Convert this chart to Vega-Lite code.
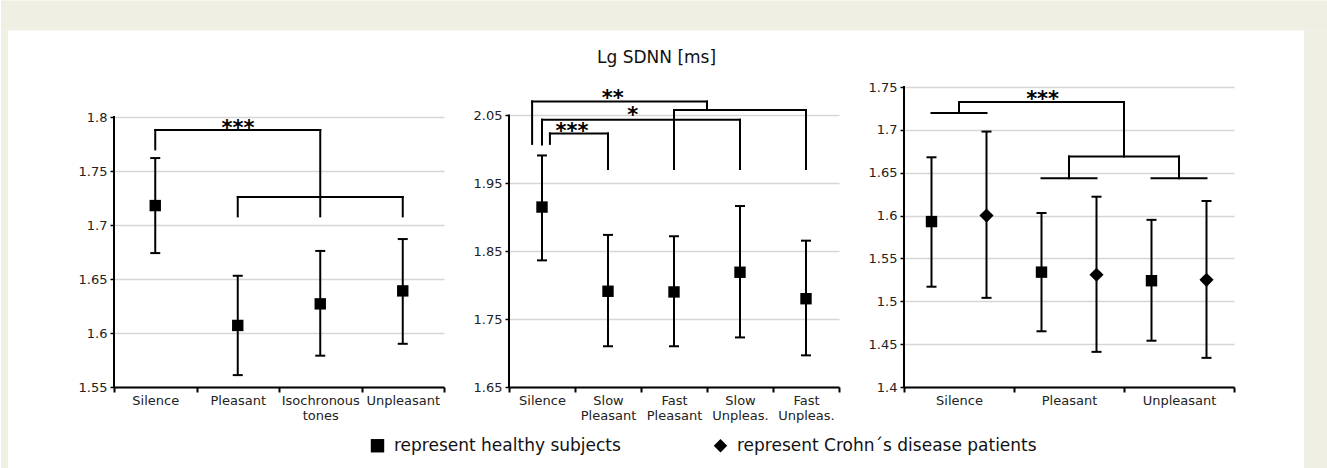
{
  "$schema": "https://vega.github.io/schema/vega-lite/v6.json",
  "background": "white",
  "padding": 0,
  "autosize": {"type": "pad"},
  "bounds": "flush",
  "spacing": 65,
  "config": {
    "font": "DejaVu Sans",
    "view": {"stroke": null},
    "axis": {"labelFont": "DejaVu Sans"},
    "legend": {"labelFont": "DejaVu Sans"}
  },
  "datasets": {
    "pts": [
      {"panel": "L", "cond": "Silence", "grp": "healthy", "mean": 1.718, "lo": 1.674, "hi": 1.762},
      {"panel": "L", "cond": "Pleasant", "grp": "healthy", "mean": 1.607, "lo": 1.561, "hi": 1.653},
      {"panel": "L", "cond": "Isochronous tones", "grp": "healthy", "mean": 1.627, "lo": 1.579, "hi": 1.676},
      {"panel": "L", "cond": "Unpleasant", "grp": "healthy", "mean": 1.639, "lo": 1.59, "hi": 1.687},
      {"panel": "M", "cond": "Silence", "grp": "healthy", "mean": 1.915, "lo": 1.8365, "hi": 1.991},
      {"panel": "M", "cond": "Slow Pleasant", "grp": "healthy", "mean": 1.791, "lo": 1.71, "hi": 1.874},
      {"panel": "M", "cond": "Fast Pleasant", "grp": "healthy", "mean": 1.79, "lo": 1.71, "hi": 1.872},
      {"panel": "M", "cond": "Slow Unpleas.", "grp": "healthy", "mean": 1.819, "lo": 1.723, "hi": 1.9165},
      {"panel": "M", "cond": "Fast Unpleas.", "grp": "healthy", "mean": 1.78, "lo": 1.6966, "hi": 1.8655},
      {"panel": "R", "cond": "Silence", "grp": "healthy", "mean": 1.593, "lo": 1.517, "hi": 1.668},
      {"panel": "R", "cond": "Silence", "grp": "crohn", "mean": 1.6, "lo": 1.504, "hi": 1.698},
      {"panel": "R", "cond": "Pleasant", "grp": "healthy", "mean": 1.534, "lo": 1.465, "hi": 1.603},
      {"panel": "R", "cond": "Pleasant", "grp": "crohn", "mean": 1.531, "lo": 1.441, "hi": 1.622},
      {"panel": "R", "cond": "Unpleasant", "grp": "healthy", "mean": 1.524, "lo": 1.454, "hi": 1.595},
      {"panel": "R", "cond": "Unpleasant", "grp": "crohn", "mean": 1.525, "lo": 1.434, "hi": 1.617}
    ],
    "br": [
      {"panel": "L", "x1": 0, "x2": 0, "y1": 1.55, "y2": 1.8},
      {"panel": "L", "x1": 0.5, "x2": 0.5, "y1": 1.77, "y2": 1.788},
      {"panel": "L", "x1": 0.5, "x2": 2.5, "y1": 1.788, "y2": 1.788},
      {"panel": "L", "x1": 2.5, "x2": 2.5, "y1": 1.788, "y2": 1.708},
      {"panel": "L", "x1": 1.5, "x2": 3.5, "y1": 1.726, "y2": 1.726},
      {"panel": "L", "x1": 1.5, "x2": 1.5, "y1": 1.726, "y2": 1.708},
      {"panel": "L", "x1": 3.5, "x2": 3.5, "y1": 1.726, "y2": 1.708},
      {"panel": "M", "x1": 0, "x2": 0, "y1": 1.65, "y2": 2.05},
      {"panel": "M", "x1": 0.35, "x2": 0.35, "y1": 2.008, "y2": 2.0706},
      {"panel": "M", "x1": 0.35, "x2": 3.0, "y1": 2.0706, "y2": 2.0706},
      {"panel": "M", "x1": 3.0, "x2": 3.0, "y1": 2.0706, "y2": 2.058},
      {"panel": "M", "x1": 2.5, "x2": 4.5, "y1": 2.058, "y2": 2.058},
      {"panel": "M", "x1": 2.5, "x2": 2.5, "y1": 2.058, "y2": 1.971},
      {"panel": "M", "x1": 4.5, "x2": 4.5, "y1": 2.058, "y2": 1.971},
      {"panel": "M", "x1": 0.5, "x2": 0.5, "y1": 2.007, "y2": 2.0437},
      {"panel": "M", "x1": 0.5, "x2": 3.5, "y1": 2.0437, "y2": 2.0437},
      {"panel": "M", "x1": 3.5, "x2": 3.5, "y1": 2.0437, "y2": 1.971},
      {"panel": "M", "x1": 0.62, "x2": 0.62, "y1": 2.008, "y2": 2.0235},
      {"panel": "M", "x1": 0.62, "x2": 1.5, "y1": 2.0235, "y2": 2.0235},
      {"panel": "M", "x1": 1.5, "x2": 1.5, "y1": 2.0235, "y2": 1.971},
      {"panel": "R", "x1": 0, "x2": 0, "y1": 1.4, "y2": 1.75},
      {"panel": "R", "x1": 0.25, "x2": 0.75, "y1": 1.7196, "y2": 1.7196},
      {"panel": "R", "x1": 0.5, "x2": 0.5, "y1": 1.7196, "y2": 1.7325},
      {"panel": "R", "x1": 0.5, "x2": 2.0, "y1": 1.7325, "y2": 1.7325},
      {"panel": "R", "x1": 2.0, "x2": 2.0, "y1": 1.7325, "y2": 1.669},
      {"panel": "R", "x1": 1.5, "x2": 2.5, "y1": 1.669, "y2": 1.669},
      {"panel": "R", "x1": 1.5, "x2": 1.5, "y1": 1.669, "y2": 1.6436},
      {"panel": "R", "x1": 2.5, "x2": 2.5, "y1": 1.669, "y2": 1.6436},
      {"panel": "R", "x1": 1.25, "x2": 1.75, "y1": 1.6436, "y2": 1.6436},
      {"panel": "R", "x1": 2.25, "x2": 2.75, "y1": 1.6436, "y2": 1.6436}
    ],
    "stars": [
      {"panel": "L", "label": "***", "x": 1.503, "y": 1.7937},
      {"panel": "M", "label": "**", "x": 1.571, "y": 2.0815},
      {"panel": "M", "label": "*", "x": 1.874, "y": 2.0559},
      {"panel": "M", "label": "***", "x": 0.955, "y": 2.0324},
      {"panel": "R", "label": "***", "x": 1.26, "y": 1.7404}
    ]
  },
  "hconcat": [
    {
      "width": 330,
      "height": 300,
      "resolve": {"scale": {"x": "independent"}},
      "layer": [
        {
          "layer": [
            {
              "data": {"values": [{}]},
              "mark": {"type": "rect", "color": "#efefe4"},
              "encoding": {
                "x": {"datum": -1.3697, "type": "quantitative", "scale": {"domain": [0, 4]}, "axis": null},
                "x2": {"datum": 14.7152},
                "y": {"datum": 1.9079, "type": "quantitative", "scale": {"domain": [1.55, 1.8278], "nice": false, "zero": false}, "title": null},
                "y2": {"datum": 1.8801}
              }
            },
            {
              "data": {"values": [{}]},
              "mark": {"type": "rect", "color": "#efefe4"},
              "encoding": {
                "x": {"datum": -1.3697, "type": "quantitative", "scale": {"domain": [0, 4]}, "axis": null},
                "x2": {"datum": -1.2848},
                "y": {"datum": 1.8801, "type": "quantitative", "scale": {"domain": [1.55, 1.8278], "nice": false, "zero": false}, "title": null},
                "y2": {"datum": 1.475}
              }
            },
            {
              "data": {"values": [{}]},
              "mark": {"type": "rect", "color": "#efefe4"},
              "encoding": {
                "x": {"datum": 14.4242, "type": "quantitative", "scale": {"domain": [0, 4]}, "axis": null},
                "x2": {"datum": 14.7152},
                "y": {"datum": 1.8801, "type": "quantitative", "scale": {"domain": [1.55, 1.8278], "nice": false, "zero": false}, "title": null},
                "y2": {"datum": 1.475}
              }
            },
            {
              "data": {"name": "br"},
              "transform": [{"filter": "datum.panel == 'L'"}],
              "mark": {"type": "rule", "color": "black", "strokeWidth": 2, "strokeCap": "square"},
              "encoding": {
                "x": {"field": "x1", "type": "quantitative", "scale": {"domain": [0, 4]}, "axis": null},
                "x2": {"field": "x2"},
                "y": {"field": "y1", "type": "quantitative", "scale": {"domain": [1.55, 1.8278], "nice": false, "zero": false}, "title": null},
                "y2": {"field": "y2"}
              }
            },
            {
              "data": {"name": "stars"},
              "transform": [{"filter": "datum.panel == 'L'"}],
              "mark": {"type": "text", "font": "DejaVu Sans", "fontWeight": "bold", "fontSize": 21, "baseline": "middle", "dy": 5, "color": "black"},
              "encoding": {
                "x": {"field": "x", "type": "quantitative", "scale": {"domain": [0, 4]}, "axis": null},
                "y": {"field": "y", "type": "quantitative", "scale": {"domain": [1.55, 1.8278], "nice": false, "zero": false}, "title": null},
                "text": {"field": "label"}
              }
            }
          ]
        },
        {
          "data": {"name": "pts"},
          "transform": [{"filter": "datum.panel == 'L'"}],
          "layer": [
            {
              "mark": {"type": "rule", "color": "black", "strokeWidth": 2},
              "encoding": {
                "x": {"field": "cond", "type": "nominal", "scale": {"domain": ["Silence", "Pleasant", "Isochronous tones", "Unpleasant"], "paddingInner": 0, "paddingOuter": 0},
                  "axis": {"title": null, "labelAngle": 0, "labelExpr": "split(datum.label, ' ')", "tickBand": "extent", "domainColor": "black", "domainWidth": 2, "tickColor": "black", "tickWidth": 2, "tickSize": 5, "labelFontSize": 13, "labelColor": "#222", "labelPadding": 2, "labelLineHeight": 15, "grid": false}},
                "y": {"field": "lo", "type": "quantitative", "scale": {"domain": [1.55, 1.8278], "nice": false, "zero": false}, "title": null},
                "y2": {"field": "hi"}
              }
            },
            {
              "mark": {"type": "tick", "color": "black", "thickness": 2, "size": 10, "opacity": 1},
              "encoding": {
                "x": {"field": "cond", "type": "nominal"},
                "y": {"field": "lo", "type": "quantitative", "title": null}
              }
            },
            {
              "mark": {"type": "tick", "color": "black", "thickness": 2, "size": 10, "opacity": 1},
              "encoding": {
                "x": {"field": "cond", "type": "nominal"},
                "y": {"field": "hi", "type": "quantitative", "title": null}
              }
            },
            {
              "mark": {"type": "point", "filled": true, "color": "black", "opacity": 1, "size": 130},
              "encoding": {
                "x": {"field": "cond", "type": "nominal"},
                "y": {"field": "mean", "type": "quantitative", "scale": {"domain": [1.55, 1.8278], "nice": false, "zero": false},
                  "axis": {"title": null, "values": [1.55, 1.6, 1.65, 1.7, 1.75, 1.8], "format": "~g", "domain": false, "tickColor": "black", "tickWidth": 1.5, "tickSize": 4, "labelFontSize": 13, "labelColor": "#222", "labelPadding": 3, "grid": true, "gridColor": "#d6d6d6", "gridWidth": 1.5}},
                "shape": {"field": "grp", "type": "nominal", "scale": {"domain": ["healthy", "crohn"], "range": ["square", "diamond"]},
                  "legend": {"orient": "none", "legendX": 255, "legendY": 350, "direction": "horizontal", "title": null, "labelExpr": "datum.label == 'healthy' ? 'represent healthy subjects' : 'represent Crohn´s disease patients'", "labelFontSize": 17, "labelColor": "#111", "symbolSize": 180, "symbolFillColor": "black", "symbolStrokeColor": "black", "symbolStrokeWidth": 0, "labelOffset": 8, "columnPadding": 91, "padding": 0, "labelLimit": 400}}
              }
            }
          ]
        }
      ]
    },
    {
      "width": 330,
      "height": 300,
      "title": {"text": "Lg SDNN [ms]", "fontSize": 17, "font": "DejaVu Sans", "fontWeight": "normal", "color": "#111", "anchor": "middle", "frame": "bounds", "offset": 20},
      "resolve": {"scale": {"x": "independent"}},
      "layer": [
        {
          "layer": [
            {
              "data": {"name": "br"},
              "transform": [{"filter": "datum.panel == 'M'"}],
              "mark": {"type": "rule", "color": "black", "strokeWidth": 2, "strokeCap": "square"},
              "encoding": {
                "x": {"field": "x1", "type": "quantitative", "scale": {"domain": [0, 5]}, "axis": null},
                "x2": {"field": "x2"},
                "y": {"field": "y1", "type": "quantitative", "scale": {"domain": [1.65, 2.0918], "nice": false, "zero": false}, "title": null},
                "y2": {"field": "y2"}
              }
            },
            {
              "data": {"name": "stars"},
              "transform": [{"filter": "datum.panel == 'M'"}],
              "mark": {"type": "text", "font": "DejaVu Sans", "fontWeight": "bold", "fontSize": 21, "baseline": "middle", "dy": 5, "color": "black"},
              "encoding": {
                "x": {"field": "x", "type": "quantitative", "scale": {"domain": [0, 5]}, "axis": null},
                "y": {"field": "y", "type": "quantitative", "scale": {"domain": [1.65, 2.0918], "nice": false, "zero": false}, "title": null},
                "text": {"field": "label"}
              }
            }
          ]
        },
        {
          "data": {"name": "pts"},
          "transform": [{"filter": "datum.panel == 'M'"}],
          "layer": [
            {
              "mark": {"type": "rule", "color": "black", "strokeWidth": 2},
              "encoding": {
                "x": {"field": "cond", "type": "nominal", "scale": {"domain": ["Silence", "Slow Pleasant", "Fast Pleasant", "Slow Unpleas.", "Fast Unpleas."], "paddingInner": 0, "paddingOuter": 0},
                  "axis": {"title": null, "labelAngle": 0, "labelExpr": "split(datum.label, ' ')", "tickBand": "extent", "domainColor": "black", "domainWidth": 2, "tickColor": "black", "tickWidth": 2, "tickSize": 5, "labelFontSize": 13, "labelColor": "#222", "labelPadding": 2, "labelLineHeight": 15, "grid": false}},
                "y": {"field": "lo", "type": "quantitative", "scale": {"domain": [1.65, 2.0918], "nice": false, "zero": false}, "title": null},
                "y2": {"field": "hi"}
              }
            },
            {
              "mark": {"type": "tick", "color": "black", "thickness": 2, "size": 10, "opacity": 1},
              "encoding": {
                "x": {"field": "cond", "type": "nominal"},
                "y": {"field": "lo", "type": "quantitative", "title": null}
              }
            },
            {
              "mark": {"type": "tick", "color": "black", "thickness": 2, "size": 10, "opacity": 1},
              "encoding": {
                "x": {"field": "cond", "type": "nominal"},
                "y": {"field": "hi", "type": "quantitative", "title": null}
              }
            },
            {
              "mark": {"type": "point", "filled": true, "color": "black", "opacity": 1, "size": 130},
              "encoding": {
                "x": {"field": "cond", "type": "nominal"},
                "y": {"field": "mean", "type": "quantitative", "scale": {"domain": [1.65, 2.0918], "nice": false, "zero": false},
                  "axis": {"title": null, "values": [1.65, 1.75, 1.85, 1.95, 2.05], "format": "~g", "domain": false, "tickColor": "black", "tickWidth": 1.5, "tickSize": 4, "labelFontSize": 13, "labelColor": "#222", "labelPadding": 3, "grid": true, "gridColor": "#d6d6d6", "gridWidth": 1.5}},
                "shape": {"field": "grp", "type": "nominal", "scale": {"domain": ["healthy", "crohn"], "range": ["square", "diamond"]},
                  "legend": {"orient": "none", "legendX": 255, "legendY": 350, "direction": "horizontal", "title": null, "labelExpr": "datum.label == 'healthy' ? 'represent healthy subjects' : 'represent Crohn´s disease patients'", "labelFontSize": 17, "labelColor": "#111", "symbolSize": 180, "symbolFillColor": "black", "symbolStrokeColor": "black", "symbolStrokeWidth": 0, "labelOffset": 8, "columnPadding": 91, "padding": 0, "labelLimit": 400}}
              }
            }
          ]
        }
      ]
    },
    {
      "width": 330,
      "height": 300,
      "resolve": {"scale": {"x": "independent"}},
      "layer": [
        {
          "layer": [
            {
              "data": {"name": "br"},
              "transform": [{"filter": "datum.panel == 'R'"}],
              "mark": {"type": "rule", "color": "black", "strokeWidth": 2, "strokeCap": "square"},
              "encoding": {
                "x": {"field": "x1", "type": "quantitative", "scale": {"domain": [0, 3]}, "axis": null},
                "x2": {"field": "x2"},
                "y": {"field": "y1", "type": "quantitative", "scale": {"domain": [1.4, 1.75], "nice": false, "zero": false}, "title": null},
                "y2": {"field": "y2"}
              }
            },
            {
              "data": {"name": "stars"},
              "transform": [{"filter": "datum.panel == 'R'"}],
              "mark": {"type": "text", "font": "DejaVu Sans", "fontWeight": "bold", "fontSize": 21, "baseline": "middle", "dy": 5, "color": "black"},
              "encoding": {
                "x": {"field": "x", "type": "quantitative", "scale": {"domain": [0, 3]}, "axis": null},
                "y": {"field": "y", "type": "quantitative", "scale": {"domain": [1.4, 1.75], "nice": false, "zero": false}, "title": null},
                "text": {"field": "label"}
              }
            }
          ]
        },
        {
          "data": {"name": "pts"},
          "transform": [{"filter": "datum.panel == 'R'"}],
          "layer": [
            {
              "mark": {"type": "rule", "color": "black", "strokeWidth": 2},
              "encoding": {
                "x": {"field": "cond", "type": "nominal", "scale": {"domain": ["Silence", "Pleasant", "Unpleasant"], "paddingInner": 0, "paddingOuter": 0},
                  "axis": {"title": null, "labelAngle": 0, "labelExpr": "split(datum.label, ' ')", "tickBand": "extent", "domainColor": "black", "domainWidth": 2, "tickColor": "black", "tickWidth": 2, "tickSize": 5, "labelFontSize": 13, "labelColor": "#222", "labelPadding": 2, "labelLineHeight": 15, "grid": false}},
                "xOffset": {"field": "grp", "type": "nominal", "scale": {"domain": ["healthy", "crohn"], "paddingInner": 0, "paddingOuter": 0}},
                "y": {"field": "lo", "type": "quantitative", "scale": {"domain": [1.4, 1.75], "nice": false, "zero": false}, "title": null},
                "y2": {"field": "hi"}
              }
            },
            {
              "mark": {"type": "tick", "color": "black", "thickness": 2, "size": 10, "opacity": 1},
              "encoding": {
                "x": {"field": "cond", "type": "nominal"},
                "xOffset": {"field": "grp", "type": "nominal"},
                "y": {"field": "lo", "type": "quantitative", "title": null}
              }
            },
            {
              "mark": {"type": "tick", "color": "black", "thickness": 2, "size": 10, "opacity": 1},
              "encoding": {
                "x": {"field": "cond", "type": "nominal"},
                "xOffset": {"field": "grp", "type": "nominal"},
                "y": {"field": "hi", "type": "quantitative", "title": null}
              }
            },
            {
              "transform": [{"filter": "datum.grp == 'healthy'"}],
              "mark": {"type": "point", "filled": true, "color": "black", "opacity": 1, "size": 130},
              "encoding": {
                "x": {"field": "cond", "type": "nominal"},
                "xOffset": {"field": "grp", "type": "nominal"},
                "y": {"field": "mean", "type": "quantitative", "scale": {"domain": [1.4, 1.75], "nice": false, "zero": false},
                  "axis": {"title": null, "values": [1.4, 1.45, 1.5, 1.55, 1.6, 1.65, 1.7, 1.75], "format": "~g", "domain": false, "tickColor": "black", "tickWidth": 1.5, "tickSize": 4, "labelFontSize": 13, "labelColor": "#222", "labelPadding": 3, "grid": true, "gridColor": "#d6d6d6", "gridWidth": 1.5}},
                "shape": {"field": "grp", "type": "nominal", "scale": {"domain": ["healthy", "crohn"], "range": ["square", "diamond"]},
                  "legend": {"orient": "none", "legendX": 255, "legendY": 350, "direction": "horizontal", "title": null, "labelExpr": "datum.label == 'healthy' ? 'represent healthy subjects' : 'represent Crohn´s disease patients'", "labelFontSize": 17, "labelColor": "#111", "symbolSize": 180, "symbolFillColor": "black", "symbolStrokeColor": "black", "symbolStrokeWidth": 0, "labelOffset": 8, "columnPadding": 91, "padding": 0, "labelLimit": 400}}
              }
            },
            {
              "transform": [{"filter": "datum.grp == 'crohn'"}],
              "mark": {"type": "point", "filled": true, "color": "black", "opacity": 1, "size": 200},
              "encoding": {
                "x": {"field": "cond", "type": "nominal"},
                "xOffset": {"field": "grp", "type": "nominal"},
                "y": {"field": "mean", "type": "quantitative", "title": null},
                "shape": {"field": "grp", "type": "nominal"}
              }
            }
          ]
        }
      ]
    }
  ]
}
